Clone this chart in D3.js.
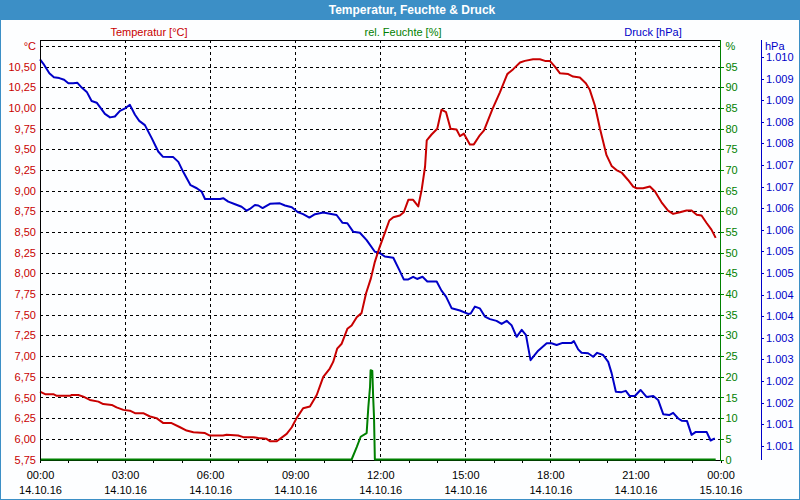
<!DOCTYPE html>
<html>
<head>
<meta charset="utf-8">
<script src="https://cdn.jsdelivr.net/npm/d3@7"></script>
<style>
  body { margin: 0; background: #ffffff; }
  svg { display: block; font-family: "Liberation Sans", Arial, sans-serif; }
  .tick-label { font-size: 11px; }
</style>
</head>
<body>
<div id="chart"></div>
<script>
// measurement series of 14.10.16, hours after midnight
let tempHours = [0,0.18,0.47,0.59,1.06,1.12,1.35,1.53,1.76,2.06,2.23,2.53,2.70,2.94,3.17,3.35,3.64,3.88,4.11,4.35,
  4.64,4.94,5.17,5.41,5.82,5.99,6.46,6.58,6.99,7.17,7.52,7.70,7.99,8.11,8.35,8.70,8.88,9.05,9.28,9.52,
  9.76,9.99,10.22,10.34,10.48,10.64,10.84,10.99,11.17,11.34,11.50,11.67,11.81,11.96,12.13,12.32,12.46,12.69,12.83,12.99,
  13.16,13.34,13.46,13.58,13.64,13.81,14.01,14.16,14.32,14.48,14.69,14.81,14.95,15.16,15.30,15.51,15.66,15.96,16.22,16.48,
  16.69,16.93,17.10,17.39,17.63,17.81,17.98,18.16,18.34,18.63,18.80,19.04,19.25,19.39,19.57,19.75,19.98,20.16,20.33,20.51,
  20.74,20.92,21.04,21.27,21.51,21.69,21.92,22.15,22.33,22.57,22.80,22.98,23.16,23.33,23.51,23.68,23.83]
let tempValues = [6.57,6.54,6.54,6.52,6.52,6.53,6.53,6.51,6.47,6.45,6.42,6.41,6.38,6.35,6.34,6.31,6.31,6.27,6.25,6.19,
  6.19,6.14,6.10,6.08,6.07,6.04,6.04,6.05,6.04,6.02,6.02,6.01,6.00,5.97,5.97,6.06,6.14,6.25,6.37,6.39,
  6.53,6.75,6.85,6.93,7.09,7.15,7.33,7.37,7.47,7.52,7.76,7.94,8.14,8.30,8.46,8.64,8.68,8.70,8.74,8.89,
  8.89,8.81,9.01,9.29,9.61,9.68,9.75,9.98,9.95,9.75,9.74,9.66,9.69,9.56,9.56,9.67,9.73,9.99,10.19,10.41,
  10.47,10.55,10.57,10.59,10.59,10.57,10.57,10.50,10.42,10.41,10.38,10.37,10.30,10.22,10.03,9.75,9.43,9.30,9.25,9.22,
  9.13,9.05,9.03,9.03,9.05,8.99,8.86,8.76,8.72,8.74,8.76,8.76,8.71,8.70,8.61,8.53,8.43]

let humHours = [0,10.99,11.17,11.31,11.52,11.58,11.64,11.66,11.72,11.75,11.78,11.81,23.83]
let humValues = [0,0,3.0,5.5,6.4,12.7,17.6,21.6,21.4,15.1,10.3,0,0]

let pressHours = [0,0.12,0.33,0.49,0.68,0.85,1.00,1.17,1.32,1.47,1.65,1.82,2.00,2.29,2.47,2.64,2.82,3.00,3.17,3.35,
  3.50,3.70,3.94,4.17,4.33,4.70,4.88,5.05,5.31,5.53,5.70,5.82,6.35,6.46,6.64,6.88,7.11,7.29,7.40,7.58,
  7.70,7.85,8.11,8.46,8.64,8.88,9.11,9.28,9.50,9.70,9.99,10.46,10.67,10.84,11.05,11.28,11.52,11.81,11.96,12.16,
  12.46,12.67,12.83,12.99,13.16,13.30,13.49,13.66,13.99,14.16,14.32,14.52,14.81,15.10,15.19,15.34,15.51,15.69,15.87,16.10,
  16.28,16.46,16.63,16.81,16.99,17.14,17.30,17.57,17.87,18.04,18.22,18.43,18.75,18.83,18.98,19.10,19.33,19.51,19.65,19.86,
  20.04,20.16,20.31,20.51,20.66,20.80,20.98,21.18,21.39,21.63,21.80,21.98,22.19,22.33,22.51,22.63,22.82,22.98,23.13,23.51,
  23.65,23.80]
let pressValues = [1009.94,1009.84,1009.62,1009.53,1009.51,1009.47,1009.39,1009.39,1009.40,1009.29,1009.19,1008.98,1008.94,1008.68,1008.60,1008.62,1008.75,1008.81,1008.89,1008.66,
  1008.52,1008.42,1008.12,1007.81,1007.69,1007.68,1007.57,1007.34,1007.03,1006.96,1006.88,1006.71,1006.71,1006.73,1006.65,1006.59,1006.53,1006.44,1006.48,1006.57,
  1006.56,1006.50,1006.60,1006.61,1006.56,1006.52,1006.40,1006.36,1006.28,1006.36,1006.40,1006.34,1006.16,1006.15,1005.95,1005.93,1005.76,1005.49,1005.47,1005.38,
  1005.35,1005.07,1004.85,1004.85,1004.91,1004.86,1004.91,1004.80,1004.80,1004.59,1004.45,1004.18,1004.13,1004.05,1004.06,1004.22,1004.18,1003.99,1003.93,1003.89,
  1003.82,1003.89,1003.79,1003.52,1003.68,1003.56,1002.98,1003.20,1003.37,1003.37,1003.33,1003.38,1003.38,1003.42,1003.23,1003.15,1003.14,1003.06,1003.15,1003.10,
  1002.94,1002.68,1002.25,1002.24,1002.27,1002.15,1002.15,1002.29,1002.13,1002.15,1002.06,1001.73,1001.71,1001.76,1001.63,1001.58,1001.57,1001.25,1001.32,1001.32,
  1001.12,1001.17]

// axis ticks
let tempTicks = [5.75,6.00,6.25,6.50,6.75,7.00,7.25,7.50,7.75,8.00,8.25,8.50,8.75,9.00,9.25,9.50,9.75,10.00,10.25,10.50,10.75]
let humTicks = [0,5,10,15,20,25,30,35,40,45,50,55,60,65,70,75,80,85,90,95,100]
let pressTicks = [1001,1001.5,1002,1002.5,1003,1003.5,1004,1004.5,1005,1005.5,1006,1006.5,1007,1007.5,1008,1008.5,1009,1009.5,1010]
let timeTicksHours = [0,3,6,9,12,15,18,21,24]

let titleText = "Temperatur, Feuchte & Druck"
let seriesTitles = ["Temperatur [°C]", "rel. Feuchte [%]", "Druck [hPa]"]

let red = "#c80000", green = "#008000", blue = "#0000c8", frameBlue = "#3c8fc6"

let width = 800, height = 500
let plot = {left: 40, right: 720.5, top: 40, bottom: 460}

let day0 = new Date(2016, 9, 14, 0, 0)
let toDate = h => new Date(day0.getTime() + h * 3600e3)

// german number format: 10,50 and 1.010
let de = d3.formatLocale({decimal: ",", thousands: ".", grouping: [3], currency: ["", " €"]})
let fmtTemp = de.format(".2f")
let fmtPress = de.format(",d")

let svg = d3.select("#chart")
            .append("svg")
            .attr("width", width)
            .attr("height", height)

// window frame with title bar
svg.append("rect")
    .attr("x", 0.5).attr("y", 0.5)
    .attr("width", width - 1).attr("height", height - 1)
    .attr("fill", "#fdfeff")
    .attr("stroke", frameBlue)
svg.append("rect")
    .attr("x", 0).attr("y", 0)
    .attr("width", width).attr("height", 20)
    .attr("fill", frameBlue)
svg.append("text")
    .attr("x", 412).attr("y", 14)
    .attr("fill", "white")
    .style("font-size", "12px")
    .style("font-weight", "bold")
    .style("text-anchor", "middle")
    .text(titleText)

// scales
let x = d3.scaleTime()
          .domain([toDate(0), toDate(24)])
          .range([plot.left, plot.right])
let yTemp = d3.scaleLinear().domain([5.75, 10.75]).range([459.5, 46])
let yHum = d3.scaleLinear().domain([0, 100]).range([459.5, 46])
let yPress = d3.scaleLinear().domain([1001, 1010]).range([445.7, 56.9])

// dashed grid
let grid = svg.append("g").attr("class", "grid")
    .attr("stroke", "black")
    .attr("stroke-dasharray", "3,3")
    .attr("shape-rendering", "crispEdges")
grid.selectAll(".hgrid")
    .data(tempTicks.slice(1))
    .enter()
    .append("line")
    .attr("x1", plot.left).attr("x2", plot.right)
    .attr("y1", d => Math.round(yTemp(d)) + 0.5)
    .attr("y2", d => Math.round(yTemp(d)) + 0.5)
grid.selectAll(".vgrid")
    .data(timeTicksHours.slice(1, -1))
    .enter()
    .append("line")
    .attr("y1", plot.top).attr("y2", plot.bottom)
    .attr("x1", d => Math.round(x(toDate(d))) + 0.5)
    .attr("x2", d => Math.round(x(toDate(d))) + 0.5)

// frame lines of plot
svg.append("line")
    .attr("x1", plot.left).attr("x2", plot.right)
    .attr("y1", plot.top + 0.5).attr("y2", plot.top + 0.5)
    .attr("stroke", "black").attr("shape-rendering", "crispEdges")

// series lines
let line = d3.line()
             .x(d => x(toDate(d[0])))
             .y(d => d[1])

function drawSeries(hours, values, yScale, color) {
    svg.append("path")
        .datum(hours.map((h, i) => [h, yScale(values[i])]))
        .attr("fill", "none")
        .attr("stroke", color)
        .attr("stroke-width", 2)
        .attr("stroke-linejoin", "round")
        .attr("d", line)
}
drawSeries(pressHours, pressValues, yPress, blue)
drawSeries(tempHours, tempValues, yTemp, red)

// bottom axis (black) under the humidity line
svg.append("g")
    .attr("transform", "translate(0," + plot.bottom + ")")
    .attr("shape-rendering", "crispEdges")
    .call(d3.axisBottom(x).ticks(d3.timeHour.every(1)).tickSize(3).tickSizeOuter(0).tickFormat(""))
    .call(g => g.select(".domain").attr("stroke", "black"))

drawSeries(humHours, humValues, yHum, green)

let xAxis = svg.append("g")
    .attr("transform", "translate(0," + plot.bottom + ")")
    .call(d3.axisBottom(x)
            .tickValues(timeTicksHours.map(toDate))
            .tickSize(0)
            .tickPadding(11)
            .tickFormat(d3.timeFormat("%H:%M")))
xAxis.select(".domain").remove()
xAxis.selectAll(".tick text")
    .attr("class", "tick-label")
    .attr("fill", "black")
xAxis.selectAll(".tick")
    .append("text")
    .attr("class", "tick-label")
    .attr("fill", "black")
    .attr("y", 26)
    .attr("dy", "0.71em")
    .text(d => d3.timeFormat("%d.%m.%y")(d))
xAxis.attr("font-family", null).attr("font-size", null)

// left axis, temperature
let leftAxis = svg.append("g")
    .attr("transform", "translate(" + plot.left + ",0)")
    .attr("shape-rendering", "crispEdges")
    .call(d3.axisLeft(yTemp)
            .tickValues(tempTicks)
            .tickSize(0)
            .tickPadding(4)
            .tickFormat(d => d === 10.75 ? "°C" : fmtTemp(d)))
leftAxis.attr("font-family", null).attr("font-size", null)
leftAxis.select(".domain").attr("stroke", "black").attr("d", "M0.5," + plot.top + "V" + plot.bottom)
leftAxis.selectAll(".tick text").attr("class", "tick-label").attr("fill", red)

// right axis, humidity
let humAxis = svg.append("g")
    .attr("transform", "translate(" + plot.right + ",0)")
    .attr("shape-rendering", "crispEdges")
    .call(d3.axisRight(yHum)
            .tickValues(humTicks)
            .tickSize(3)
            .tickPadding(2)
            .tickFormat(d => d === 100 ? "%" : d))
humAxis.attr("font-family", null).attr("font-size", null)
humAxis.select(".domain").attr("stroke", green).attr("d", "M0," + plot.top + "V" + (plot.bottom + 1))
humAxis.selectAll(".tick line").attr("stroke", green)
humAxis.selectAll(".tick").filter(d => d === 100).select("line").remove()
humAxis.selectAll(".tick text").attr("class", "tick-label").attr("fill", green)

// outer right axis, pressure
let pressAxis = svg.append("g")
    .attr("transform", "translate(761,0)")
    .attr("shape-rendering", "crispEdges")
    .call(d3.axisRight(yPress)
            .tickValues(pressTicks)
            .tickSize(3)
            .tickPadding(2)
            .tickFormat(d => fmtPress(Math.floor(d))))
pressAxis.attr("font-family", null).attr("font-size", null)
pressAxis.select(".domain").attr("stroke", blue).attr("d", "M0," + plot.top + "V" + plot.bottom)
pressAxis.selectAll(".tick line").attr("stroke", blue)
pressAxis.selectAll(".tick text").attr("class", "tick-label").attr("fill", blue)
pressAxis.append("text")
    .attr("class", "tick-label")
    .attr("x", 4).attr("y", yTemp(10.75))
    .attr("dy", "0.32em")
    .attr("fill", blue)
    .text("hPa")

// series titles above the plot
let titleX = [149, 403, 653]
let titleColors = [red, green, blue]
svg.selectAll(".series-title")
    .data(seriesTitles)
    .enter()
    .append("text")
    .attr("class", "series-title tick-label")
    .attr("x", (d, i) => titleX[i])
    .attr("y", 36)
    .attr("fill", (d, i) => titleColors[i])
    .style("text-anchor", "middle")
    .text(d => d)
</script>
</body>
</html>
